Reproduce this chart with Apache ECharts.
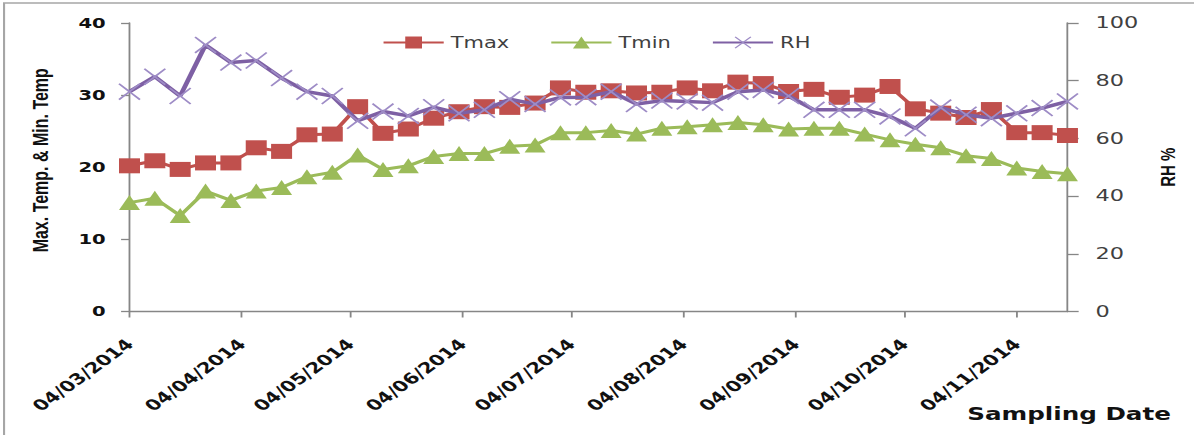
<!DOCTYPE html>
<html>
<head>
<meta charset="utf-8">
<title>Tmax, Tmin and RH by sampling date</title>
<script src="https://cdn.jsdelivr.net/npm/echarts@6/dist/echarts.min.js"></script>
<style>
  html, body { margin: 0; padding: 0; background: #ffffff; overflow: hidden; }
  #stage { width: 1194px; height: 435px; overflow: hidden; position: relative; }
  /* the chart is laid out narrower and widened horizontally */
  #chart { width: 853px; height: 435px; transform: scaleX(1.39977); transform-origin: 0 0; }
</style>
</head>
<body>
<div id="stage"><div id="chart"></div></div>
<script>
// Weekly sampling dates
const sampleDates = [
  '2014-03-04', '2014-03-11', '2014-03-18', '2014-03-25',
  '2014-04-01', '2014-04-08', '2014-04-15', '2014-04-22', '2014-04-29',
  '2014-05-06', '2014-05-13', '2014-05-20', '2014-05-27',
  '2014-06-03', '2014-06-10', '2014-06-17', '2014-06-24',
  '2014-07-01', '2014-07-08', '2014-07-15', '2014-07-22', '2014-07-29',
  '2014-08-05', '2014-08-12', '2014-08-19', '2014-08-26',
  '2014-09-02', '2014-09-09', '2014-09-16', '2014-09-23', '2014-09-30',
  '2014-10-07', '2014-10-14', '2014-10-21', '2014-10-28',
  '2014-11-04', '2014-11-11', '2014-11-18'
];

const tmax = [20.2, 20.9, 19.7, 20.6, 20.6, 22.7, 22.2, 24.5, 24.6, 28.4,
              24.7, 25.3, 26.8, 27.7, 28.4, 28.3, 28.9, 31.0, 30.4, 30.6,
              30.3, 30.4, 31.0, 30.6, 31.8, 31.6, 30.5, 30.8, 29.7, 30.0,
              31.2, 28.1, 27.5, 26.9, 28.0, 24.8, 24.8, 24.4];

const tmin = [15.1, 15.7, 13.3, 16.7, 15.4, 16.7, 17.2, 18.7, 19.3, 21.7,
              19.7, 20.2, 21.5, 21.9, 21.9, 22.9, 23.1, 24.8, 24.8, 25.1,
              24.6, 25.4, 25.6, 25.9, 26.2, 25.9, 25.3, 25.4, 25.4, 24.6,
              23.8, 23.2, 22.7, 21.6, 21.2, 19.9, 19.4, 19.1];

const rh = [76.2, 81.4, 74.7, 92.4, 86.3, 87.0, 80.9, 76.2, 74.7, 66.1,
            69.3, 67.8, 70.8, 68.7, 69.9, 73.6, 71.9, 74.2, 74.3, 76.2,
            71.9, 73.1, 72.8, 72.4, 76.2, 76.8, 74.7, 69.9, 69.9, 69.9,
            67.6, 63.5, 70.7, 68.2, 67.0, 68.7, 70.5, 72.8];

// Month ticks on the date axis
const monthTicks = ['2014-03-04', '2014-04-04', '2014-05-04', '2014-06-04',
                    '2014-07-04', '2014-08-04', '2014-09-04', '2014-10-04', '2014-11-04'];

const leftTicks = [0, 10, 20, 30, 40];
const rightTicks = [0, 20, 40, 60, 80, 100];

// The date axis is a day count from the first sampling date
const DAY = 86400000;
function toUTC(s) {
  const p = s.split('-').map(Number);
  return Date.UTC(p[0], p[1] - 1, p[2]);
}
const origin = toUTC(sampleDates[0]);
const dayOf = s => Math.round((toUTC(s) - origin) / DAY);
function pad2(n) { return (n < 10 ? '0' : '') + n; }
function fmtDay(d) {
  const t = new Date(origin + Math.round(d) * DAY);
  return pad2(t.getUTCDate()) + '/' + pad2(t.getUTCMonth() + 1) + '/' + t.getUTCFullYear();
}

const days = sampleDates.map(dayOf);
const tickDays = monthTicks.map(dayOf);
const pairs = arr => arr.map((v, i) => [days[i], v]);

const crossPath = 'path://M0,1.3L1.3,0L10,8.7L18.7,0L20,1.3L11.3,10L20,18.7L18.7,20L10,11.3L1.3,20L0,18.7L8.7,10Z';

const axisGray = '#868686';

const chart = echarts.init(document.getElementById('chart'), null, { renderer: 'svg' });

chart.setOption({
  animation: false,
  backgroundColor: '#ffffff',
  textStyle: { fontFamily: 'DejaVu Sans' },
  graphic: [{
    type: 'rect',
    shape: { x: 2.9, y: 3, width: 900, height: 500 },
    style: { fill: 'none', stroke: '#a6a6a6', lineWidth: 1.5 },
    silent: true
  }],
  title: {
    text: 'Sampling Date',
    left: 691,
    top: 405,
    padding: 0,
    textStyle: { fontFamily: 'DejaVu Sans', fontWeight: 'bold', fontSize: 17.6, color: '#111111' }
  },
  legend: {
    left: 273,
    top: 35,
    padding: 0,
    itemWidth: 43,
    itemHeight: 15,
    itemGap: 29,
    textStyle: { fontFamily: 'DejaVu Sans', fontSize: 15, color: '#404040' },
    data: ['Tmax', 'Tmin', 'RH']
  },
  grid: { left: 92.5, right: 90.4, top: 23, bottom: 123.5, containLabel: false, outerBoundsMode: 'none' },
  xAxis: {
    type: 'value',
    min: days[0],
    max: days[days.length - 1],
    splitLine: { show: false },
    axisLine: { lineStyle: { color: axisGray, width: 1.3 } },
    axisTick: { show: true, length: 6, lineStyle: { color: axisGray, width: 1.3 },
                customValues: tickDays },
    axisLabel: {
      customValues: tickDays,
      rotate: 45,
      margin: 30,
      fontFamily: 'DejaVu Sans',
      fontWeight: 'bold',
      fontSize: 15,
      color: '#111111',
      formatter: v => fmtDay(v)
    }
  },
  yAxis: [{
    type: 'value',
    min: leftTicks[0],
    max: leftTicks[leftTicks.length - 1],
    interval: 10,
    name: 'Max. Temp. & Min. Temp',
    nameLocation: 'middle',
    nameRotate: 90,
    nameGap: 56,
    nameTextStyle: { fontFamily: 'Liberation Sans', fontWeight: 'bold', fontSize: 16, color: '#111111', padding: [0, 0, 0, 14] },
    splitLine: { show: false },
    axisLine: { show: true, lineStyle: { color: axisGray, width: 1.3 } },
    axisTick: { show: true, length: 6, lineStyle: { color: axisGray, width: 1.3 } },
    axisLabel: { margin: 17, fontFamily: 'DejaVu Sans', fontWeight: 'bold', fontSize: 14, color: '#111111' }
  }, {
    type: 'value',
    position: 'right',
    min: rightTicks[0],
    max: rightTicks[rightTicks.length - 1],
    interval: 20,
    name: 'RH %',
    nameLocation: 'middle',
    nameRotate: 90,
    nameGap: 64,
    nameTextStyle: { fontFamily: 'Liberation Sans', fontWeight: 'bold', fontSize: 15, color: '#111111' },
    splitLine: { show: false },
    axisLine: { show: true, lineStyle: { color: axisGray, width: 1.3 } },
    axisTick: { show: true, length: 8, lineStyle: { color: axisGray, width: 1.3 } },
    axisLabel: { margin: 20, fontFamily: 'DejaVu Sans', fontSize: 16, color: '#404040' }
  }],
  series: [{
    name: 'Tmax',
    type: 'line',
    yAxisIndex: 0,
    data: pairs(tmax),
    symbol: 'rect',
    symbolSize: 15,
    showAllSymbol: true,
    itemStyle: { color: '#C0504D' },
    lineStyle: { color: '#C0504D', width: 3 },
    z: 2
  }, {
    name: 'Tmin',
    type: 'line',
    yAxisIndex: 0,
    data: pairs(tmin),
    symbol: 'triangle',
    symbolSize: 15,
    showAllSymbol: true,
    itemStyle: { color: '#9BBB59' },
    lineStyle: { color: '#9BBB59', width: 3 },
    z: 3
  }, {
    name: 'RH',
    type: 'line',
    yAxisIndex: 1,
    data: pairs(rh),
    symbol: crossPath,
    symbolSize: [16, 17],
    showAllSymbol: true,
    itemStyle: { color: '#9E8CC6' },
    lineStyle: { color: '#7E60A4', width: 3.5 },
    z: 4
  }]
});
</script>
</body>
</html>
